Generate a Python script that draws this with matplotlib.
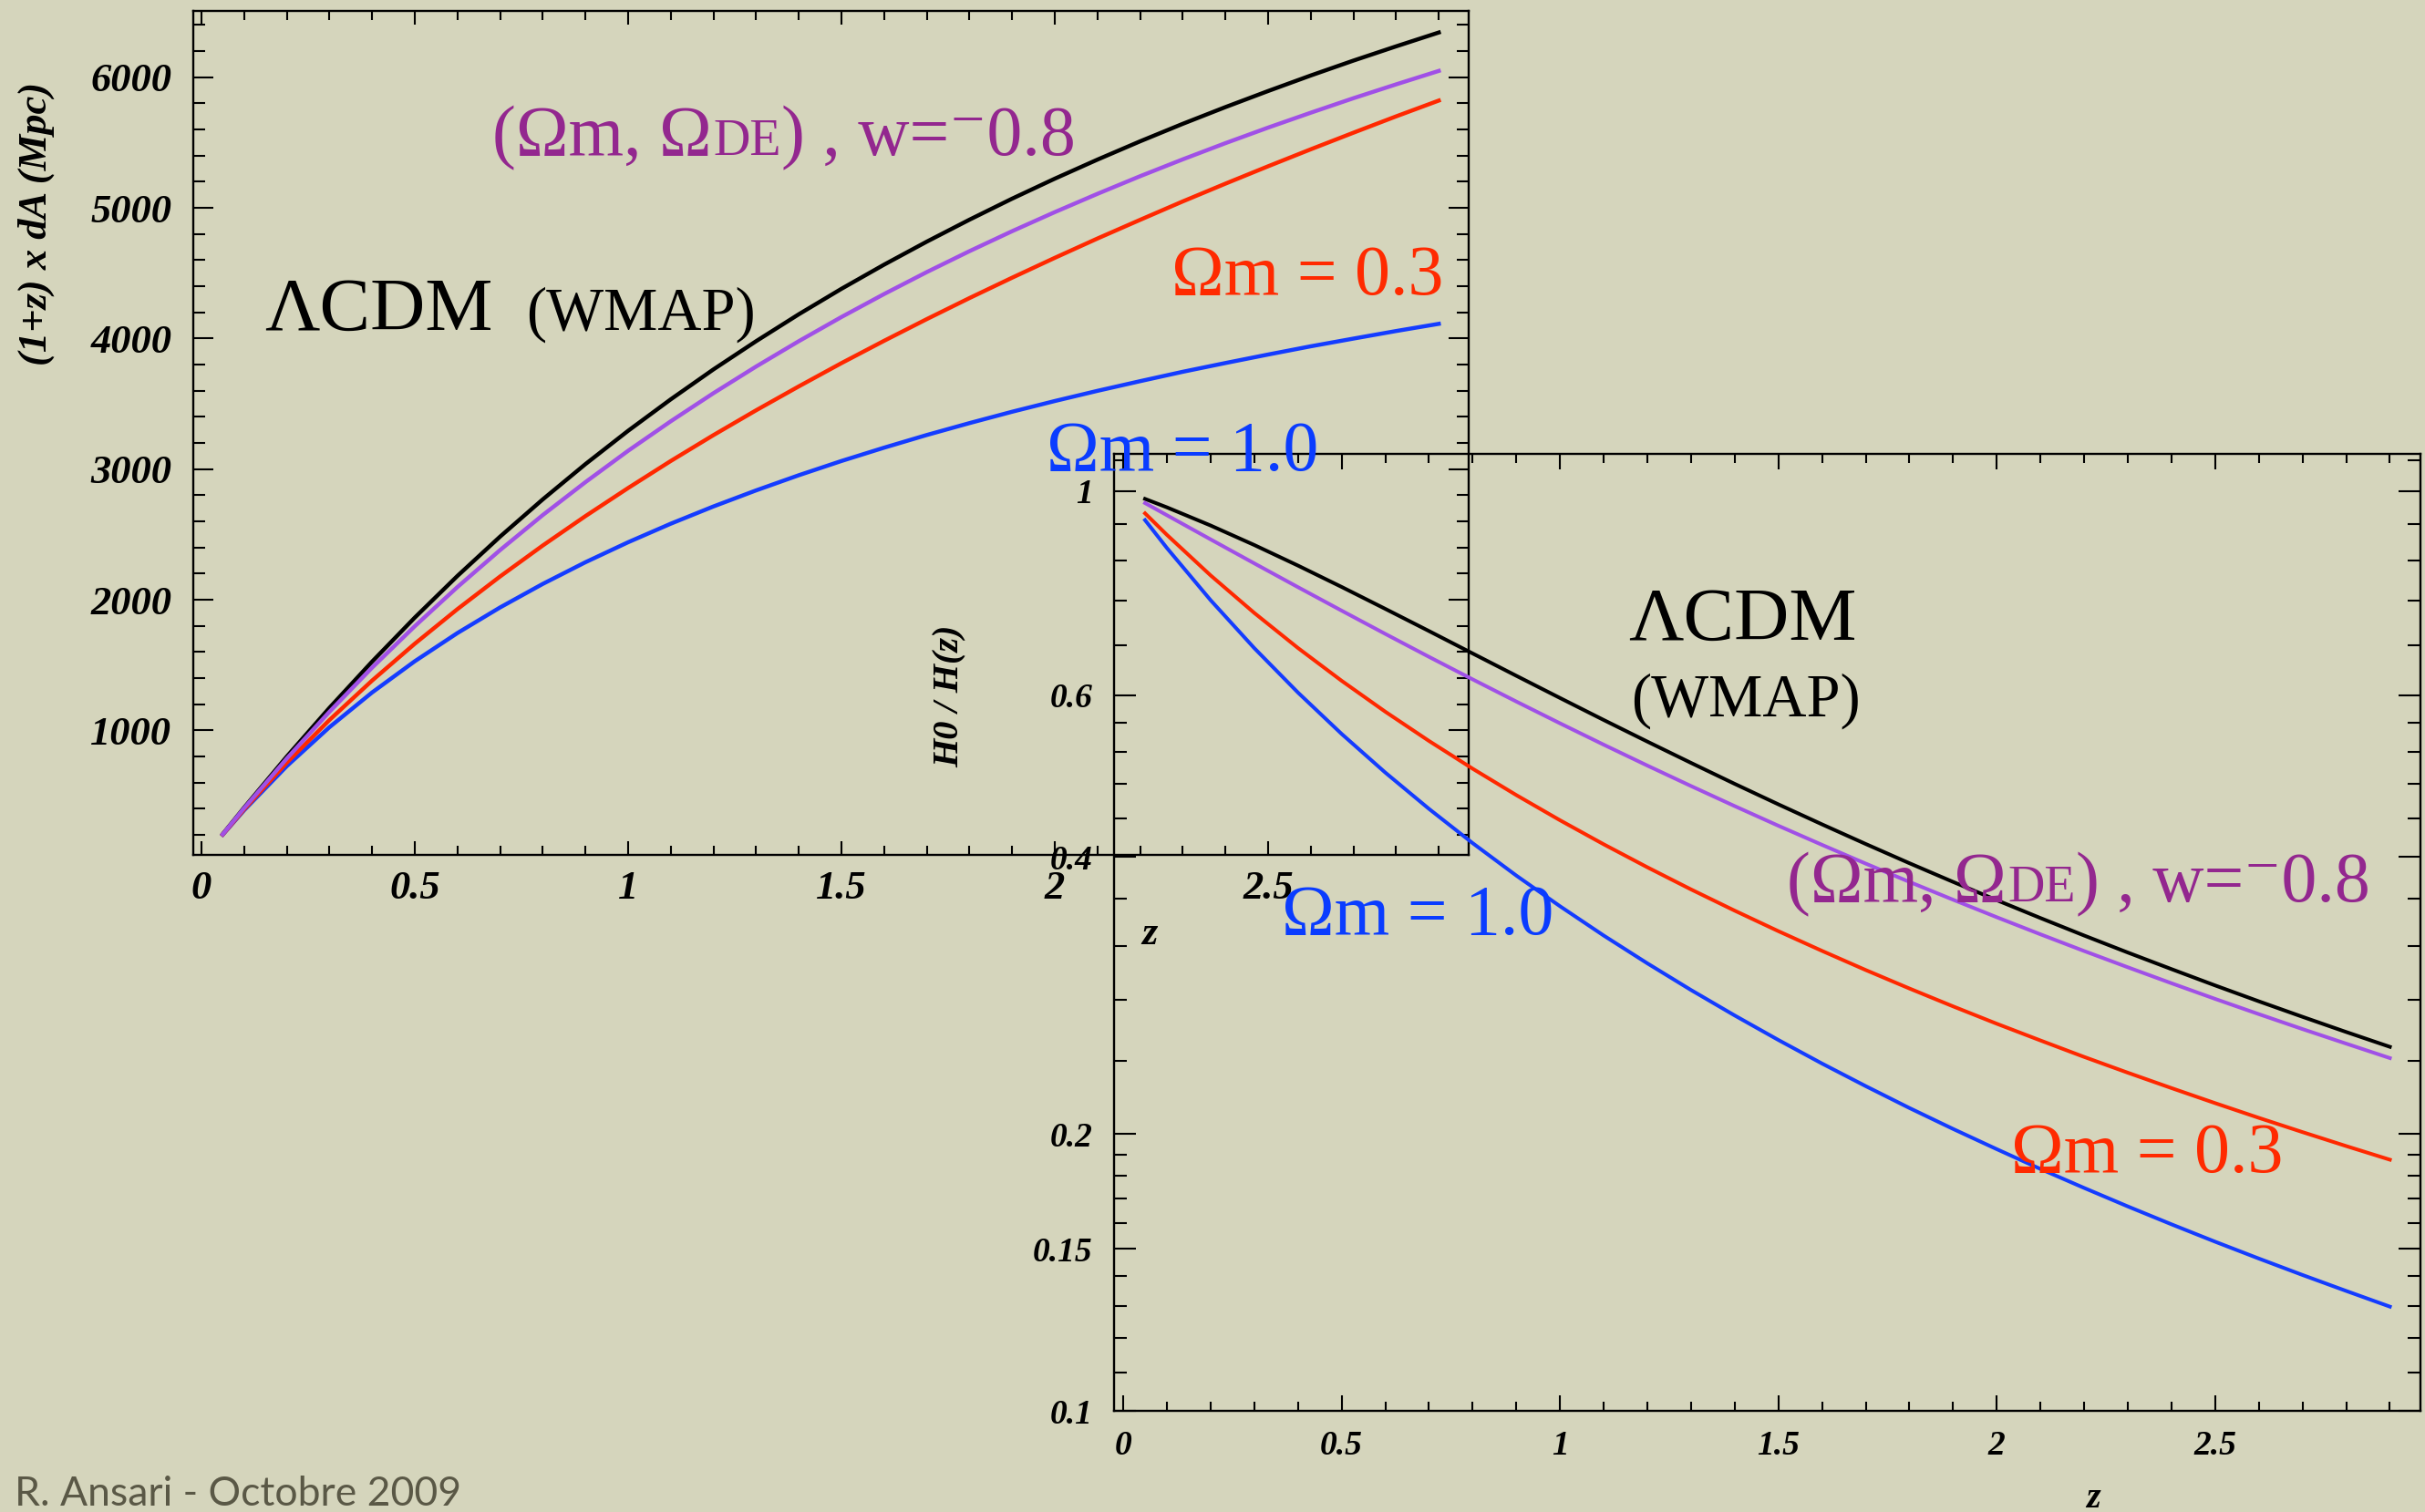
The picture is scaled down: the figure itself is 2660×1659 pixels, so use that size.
import matplotlib
matplotlib.use('Agg')
import matplotlib.pyplot as plt
from matplotlib.ticker import MultipleLocator, NullFormatter

# redshift points
z = [0.05, 0.1, 0.2, 0.3, 0.4, 0.5, 0.6, 0.7, 0.8, 0.9, 1.0, 1.1, 1.2, 1.3, 1.4,
     1.5, 1.6, 1.7, 1.8, 1.9, 2.0, 2.1, 2.2, 2.3, 2.4, 2.5, 2.6, 2.7, 2.8, 2.9]

# (1+z) x dA in Mpc (upper left panel)
dA_lcdm = [206, 408, 799, 1172, 1526, 1863, 2182, 2483, 2768, 3038, 3293, 3534, 3763, 3979, 4185,
           4380, 4565, 4741, 4909, 5070, 5223, 5369, 5509, 5643, 5771, 5894, 6013, 6127, 6236, 6342]
dA_w08 = [205, 404, 784, 1142, 1480, 1797, 2097, 2380, 2648, 2900, 3140, 3366, 3581, 3785, 3979,
          4164, 4340, 4508, 4668, 4821, 4967, 5107, 5242, 5371, 5495, 5614, 5728, 5839, 5945, 6048]
dA_om03 = [203, 395, 752, 1079, 1381, 1663, 1928, 2178, 2415, 2640, 2855, 3062, 3260, 3450, 3633,
           3811, 3982, 4148, 4309, 4465, 4617, 4765, 4908, 5049, 5185, 5318, 5448, 5575, 5700, 5821]
dA_om1 = [201, 388, 726, 1024, 1290, 1529, 1745, 1941, 2121, 2287, 2440, 2582, 2714, 2837, 2953,
          3062, 3164, 3261, 3352, 3439, 3521, 3599, 3673, 3745, 3812, 3877, 3940, 3999, 4057, 4112]

# H0 / H(z) (lower right panel)
h_lcdm = [0.9801, 0.9596, 0.9170, 0.8733, 0.8295, 0.7863, 0.7443, 0.7041, 0.6657, 0.6295,
          0.5955, 0.5636, 0.5339, 0.5062, 0.4803, 0.4563, 0.4340, 0.4132, 0.3938, 0.3758,
          0.3590, 0.3433, 0.3286, 0.3149, 0.3021, 0.2900, 0.2787, 0.2681, 0.2581, 0.2487]
h_w08 = [0.9699, 0.9409, 0.8857, 0.8341, 0.7859, 0.7410, 0.6991, 0.6601, 0.6239, 0.5902,
         0.5589, 0.5298, 0.5028, 0.4777, 0.4543, 0.4325, 0.4123, 0.3934, 0.3758, 0.3594,
         0.3440, 0.3296, 0.3161, 0.3035, 0.2916, 0.2804, 0.2699, 0.2600, 0.2507, 0.2418]
h_om03 = [0.9453, 0.8958, 0.8094, 0.7368, 0.6749, 0.6217, 0.5754, 0.5348, 0.4989, 0.4670,
          0.4385, 0.4129, 0.3898, 0.3688, 0.3497, 0.3322, 0.3162, 0.3014, 0.2878, 0.2752,
          0.2635, 0.2527, 0.2425, 0.2331, 0.2243, 0.2160, 0.2082, 0.2009, 0.1940, 0.1875]
h_om1 = [0.9294, 0.8668, 0.7607, 0.6747, 0.6037, 0.5443, 0.4941, 0.4512, 0.4141, 0.3818,
         0.3536, 0.3286, 0.3065, 0.2867, 0.2690, 0.2530, 0.2385, 0.2254, 0.2134, 0.2025,
         0.1925, 0.1832, 0.1747, 0.1668, 0.1595, 0.1527, 0.1464, 0.1405, 0.1350, 0.1298]

z_ticks = [0, 0.5, 1, 1.5, 2, 2.5]
z_tick_labels = ['0', '0.5', '1', '1.5', '2', '2.5']
dA_ticks = [1000, 2000, 3000, 4000, 5000, 6000]
dA_tick_labels = ['1000', '2000', '3000', '4000', '5000', '6000']
h_ticks = [0.1, 0.15, 0.2, 0.4, 0.6, 1]
h_tick_labels = ['0.1', '0.15', '0.2', '0.4', '0.6', '1']
h_minor = [0.11, 0.12, 0.13, 0.14, 0.16, 0.17, 0.18, 0.19, 0.24, 0.28, 0.32, 0.36,
           0.44, 0.48, 0.52, 0.56, 0.68, 0.76, 0.84, 0.92, 1.08]

W, H = 2660, 1659
BG = '#d5d5bc'
SERIF = ['Liberation Serif', 'DejaVu Serif']
C_BLACK, C_PURPLE, C_RED, C_BLUE = 'black', '#a050e6', '#ff2800', '#143cff'
T_PURPLE, T_RED, T_BLUE = '#93278f', '#ff2a00', '#0a3cff'

plt.rcParams['font.family'] = SERIF
plt.rcParams['font.style'] = 'italic'
plt.rcParams['font.weight'] = 'bold'


def fx(x, y):
    return x / W, 1 - y / H


def note(x, y, s, size, color):
    return fig.text(*fx(x, y), s, fontsize=size, color=color, style='normal',
                    weight='normal', ha='left', va='baseline')


def de_label(ax, x, y, size, color):
    # (Om, ODE) , w=-0.8 with the DE in smaller capitals
    t1 = note(x, y, '(Ωm, Ω', size, color)
    t2 = ax.annotate('DE', xy=(1, 0), xycoords=t1, xytext=(1, 0.217 * size),
                     textcoords='offset points', fontsize=0.72 * size, color=color,
                     style='normal', weight='normal', va='baseline')
    ax.annotate(') , w=⁻0.8', xy=(1, 0), xycoords=t2, xytext=(0, 0.217 * 0.72 * size),
                textcoords='offset points', fontsize=size, color=color,
                style='normal', weight='normal', va='baseline')


fig = plt.figure(figsize=(W / 100, H / 100), dpi=100, facecolor=BG)

# upper left panel
ax1 = fig.add_axes([212 / W, 1 - 938 / H, 1399 / W, 926 / H])
ax1.set_facecolor('none')
ax1.plot(z, dA_lcdm, color=C_BLACK, lw=3.2)
ax1.plot(z, dA_om1, color=C_BLUE, lw=3.2)
ax1.plot(z, dA_om03, color=C_RED, lw=3.2)
ax1.plot(z, dA_w08, color=C_PURPLE, lw=3.2)
ax1.set_xlim(-0.019, 2.97)
ax1.set_ylim(47, 6507)
ax1.set_xticks(z_ticks, z_tick_labels)
ax1.set_yticks(dA_ticks, dA_tick_labels)
ax1.xaxis.set_minor_locator(MultipleLocator(0.1))
ax1.yaxis.set_minor_locator(MultipleLocator(200))
ax1.tick_params(which='both', direction='in', top=True, right=True, width=1.5, labelsize=32)
ax1.tick_params(axis='x', which='major', length=11, pad=12)
ax1.tick_params(axis='x', which='minor', length=7)
ax1.tick_params(axis='y', which='major', length=16, pad=17)
ax1.tick_params(axis='y', which='minor', length=9.5)
for s in ax1.spines.values():
    s.set_linewidth(1.7)

# lower right panel
ax2 = fig.add_axes([1222 / W, 1 - 1548 / H, 1433 / W, 1050 / H])
ax2.set_facecolor('none')
ax2.plot(z, h_lcdm, color=C_BLACK, lw=2.9)
ax2.plot(z, h_om1, color=C_BLUE, lw=2.9)
ax2.plot(z, h_om03, color=C_RED, lw=2.9)
ax2.plot(z, h_w08, color=C_PURPLE, lw=2.9)
ax2.set_yscale('log')
ax2.set_xlim(-0.021, 2.97)
ax2.set_ylim(0.1, 1.097)
ax2.set_xticks(z_ticks, z_tick_labels)
ax2.set_yticks(h_ticks, h_tick_labels)
ax2.set_yticks(h_minor, minor=True)
ax2.yaxis.set_minor_formatter(NullFormatter())
ax2.xaxis.set_minor_locator(MultipleLocator(0.1))
ax2.tick_params(which='both', direction='in', top=True, right=True, width=1.5, labelsize=27)
ax2.tick_params(axis='x', which='major', length=12, pad=15)
ax2.tick_params(axis='x', which='minor', length=7.5)
ax2.tick_params(axis='y', which='major', length=17, pad=17)
ax2.tick_params(axis='y', which='minor', length=10)
for s in ax2.spines.values():
    s.set_linewidth(1.7)

# axis titles
fig.text(*fx(40, 245), '(1+z) x dA (Mpc)', fontsize=32, rotation=90, ha='center', va='center')
fig.text(*fx(1261, 1025), 'z', fontsize=32, ha='center', va='center')
fig.text(*fx(1042, 764), 'H0 / H(z)', fontsize=29, rotation=90, ha='center', va='center')
fig.text(*fx(2296, 1645), 'z', fontsize=29, ha='center', va='center')

# model labels, upper panel
de_label(ax1, 540, 170, 56, T_PURPLE)
note(290, 362, 'ΛCDM', 60, 'black')
note(577, 362, '(WMAP)', 48, 'black')
note(1285, 323, 'Ωm = 0.3', 56, T_RED)
note(1148, 516, 'Ωm = 1.0', 56, T_BLUE)

# model labels, lower panel
note(1786, 702, 'ΛCDM', 60, 'black')
note(1789, 786, '(WMAP)', 48, 'black')
de_label(ax2, 1960, 989, 56, T_PURPLE)
note(1406, 1025, 'Ωm = 1.0', 56, T_BLUE)
note(2206, 1286, 'Ωm = 0.3', 56, T_RED)

fig.text(*fx(16, 1652), 'R. Ansari - Octobre 2009', fontsize=32, color='#5a5846',
         family='Lato', style='normal', weight='normal', ha='left', va='baseline')

plt.savefig('out.png', dpi=100, facecolor=BG)
